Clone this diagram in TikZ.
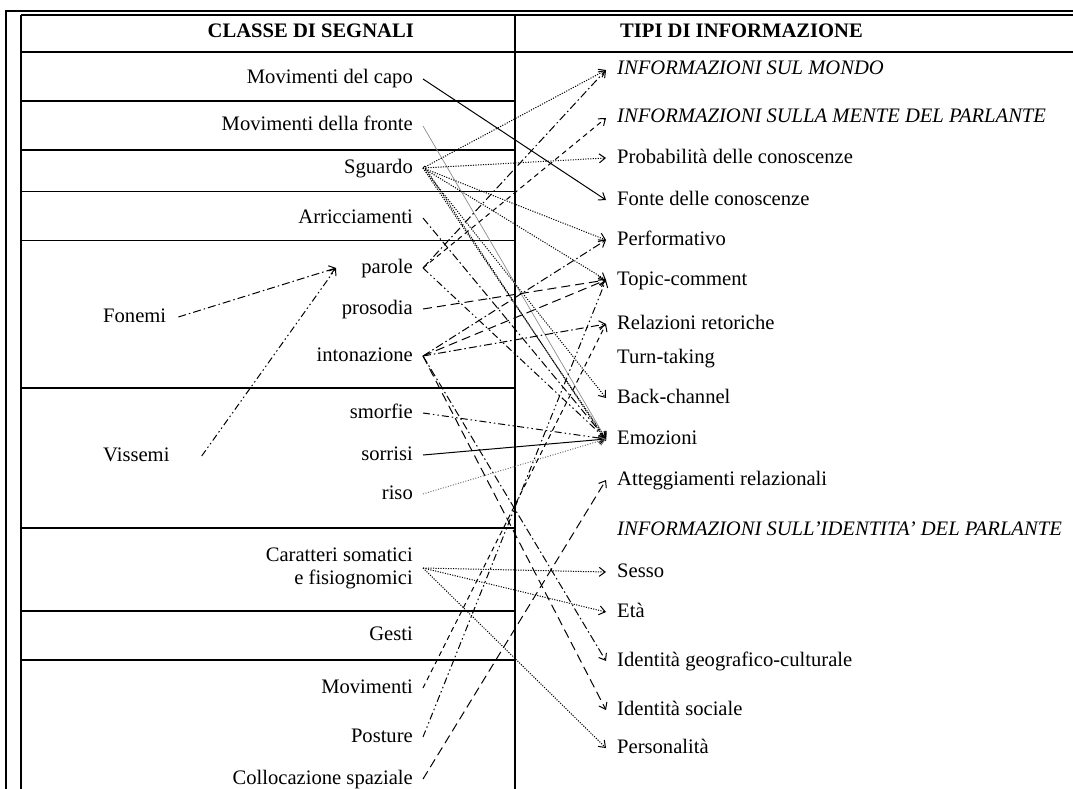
\documentclass[tikz,border=0pt]{standalone}
\usepackage{fontspec}
\setmainfont{Liberation Serif}
\usetikzlibrary{arrows.meta}
\newcommand\linkit[3]{\draw[#1] ([xshift=10pt]#2.east) -- ([xshift=-11pt]#3.west);}
\begin{document}
\begin{tikzpicture}[x=1pt,y=-1pt,
  lab/.style={inner sep=0pt, font=\fontsize{20.6}{24}\selectfont, text height=14pt, text depth=4pt},
  lft/.style={lab, anchor=east},
  rgt/.style={lab, anchor=west},
  hdr/.style={font=\bfseries\fontsize{20.6}{24}\selectfont},
  ita/.style={font=\itshape\fontsize{20.6}{24}\selectfont},
  conn/.style={line width=1pt, -{Straight Barb[length=6pt,width=9pt,line width=1pt]}},
  dotl/.style={conn, dash pattern=on 1.1pt off 1.4pt},
  grayl/.style={conn, draw=black!45, line width=0.7pt},
  graydot/.style={conn, draw=black!55, dash pattern=on 1pt off 1.6pt},
  ldash/.style={conn, dash pattern=on 9pt off 5pt},
  sdash/.style={conn, dash pattern=on 5pt off 4pt},
  ddot/.style={conn, dash pattern=on 8pt off 3pt on 1.5pt off 3pt},
  dddot/.style={conn, dash pattern=on 7pt off 3pt on 1.5pt off 3pt on 1.5pt off 3pt},
  frame/.style={line width=1.2pt},
]
\useasboundingbox (0,0) rectangle (1073,789);
% frame
\draw[line width=2.6pt] (5,11) -- (1073,11);
\draw[line width=2.6pt] (6,10) -- (6,789);
\draw[frame] (21,15) -- (1073,15);
\draw[frame] (21,15) -- (21,789);
\draw[frame] (21,52) -- (1073,52);
\draw[line width=2pt] (515,15) -- (515,789);
\foreach \y in {101,150,191.5,240.5,388,528,611,660} \draw[frame] (21,\y) -- (515,\y);
% headers
\node[lft, hdr] (hl) at (414,33) {CLASSE DI SEGNALI};
\node[rgt, hdr] (hr) at (620,33) {TIPI DI INFORMAZIONE};
% left labels
\node[lft] (capo) at (413,79) {Movimenti del capo};
\node[lft] (fronte) at (413,126) {Movimenti della fronte};
\node[lft] (sguardo) at (413,168) {Sguardo};
\node[lft] (arric) at (413,218) {Arricciamenti};
\node[lft] (parole) at (413,268) {parole};
\node[lft] (prosodia) at (413,309) {prosodia};
\node[lft] (inton) at (413,356) {intonazione};
\node[rgt] (fonemi) at (103,317) {Fonemi};
\node[rgt] (vissemi) at (103,456) {Vissemi};
\node[lft] (smorfie) at (413,413) {smorfie};
\node[lft] (sorrisi) at (413,455) {sorrisi};
\node[lft] (riso) at (413,494) {riso};
\node[inner sep=0pt, anchor=east, align=right, font=\fontsize{20.6}{23}\selectfont] (carat) at (413,568) {Caratteri somatici\\e fisiognomici};
\node[lft] (gesti) at (413,635) {Gesti};
\node[lft] (movim) at (413,688) {Movimenti};
\node[lft] (posture) at (413,737) {Posture};
\node[lft] (colloc) at (413,779) {Collocazione spaziale};
% right labels
\node[rgt, ita] (mondo) at (617,70) {INFORMAZIONI SUL MONDO};
\node[rgt, ita] (mente) at (617,118) {INFORMAZIONI SULLA MENTE DEL PARLANTE};
\node[rgt] (prob) at (617,158) {Probabilità delle conoscenze};
\node[rgt] (fonte) at (617,200) {Fonte delle conoscenze};
\node[rgt] (perf) at (617,240) {Performativo};
\node[rgt] (topic) at (617,280) {Topic-comment};
\node[rgt] (relaz) at (617,324) {Relazioni retoriche};
\node[rgt] (turn) at (617,358) {Turn-taking};
\node[rgt] (back) at (617,398) {Back-channel};
\node[rgt] (emoz) at (617,439) {Emozioni};
\node[rgt] (atteg) at (617,480) {Atteggiamenti relazionali};
\node[rgt, ita] (ident) at (617,530) {INFORMAZIONI SULL'IDENTITA' DEL PARLANTE};
\node[rgt] (sesso) at (617,572) {Sesso};
\node[rgt] (eta) at (617,612) {Età};
\node[rgt] (geo) at (617,661) {Identità geografico-culturale};
\node[rgt] (soc) at (617,710) {Identità sociale};
\node[rgt] (pers) at (617,748) {Personalità};
% Fonemi / Vissemi -> parole
\coordinate (ptip) at ([xshift=-25pt]parole.west);
\draw[ddot] ([xshift=12pt]fonemi.east) -- (ptip);
\draw[dddot] ([xshift=32pt]vissemi.east) -- (ptip);
% connectors
\linkit{conn}{capo}{fonte}
\linkit{grayl}{fronte}{emoz}
\linkit{dotl}{sguardo}{mondo}
\linkit{dotl}{sguardo}{prob}
\linkit{dotl}{sguardo}{perf}
\linkit{dotl}{sguardo}{topic}
\linkit{dotl}{sguardo}{back}
\linkit{dotl}{sguardo}{emoz}
\draw[dotl] ([xshift=11pt,yshift=2pt]sguardo.east) -- ([xshift=-11pt,yshift=-2pt]emoz.west);
\linkit{ddot}{arric}{emoz}
\linkit{ddot}{parole}{mondo}
\linkit{sdash}{parole}{mente}
\linkit{dddot}{parole}{emoz}
\linkit{ldash}{prosodia}{topic}
\linkit{ddot}{inton}{perf}
\linkit{ldash}{inton}{topic}
\linkit{ddot}{inton}{relaz}
\linkit{ddot}{inton}{geo}
\linkit{ldash}{inton}{soc}
\linkit{dddot}{smorfie}{emoz}
\linkit{conn}{sorrisi}{emoz}
\linkit{graydot}{riso}{emoz}
\linkit{dotl}{carat}{sesso}
\linkit{dotl}{carat}{eta}
\linkit{dotl}{carat}{pers}
\linkit{sdash}{movim}{relaz}
\linkit{dddot}{posture}{topic}
\linkit{ldash}{colloc}{atteg}
\end{tikzpicture}
\end{document}
